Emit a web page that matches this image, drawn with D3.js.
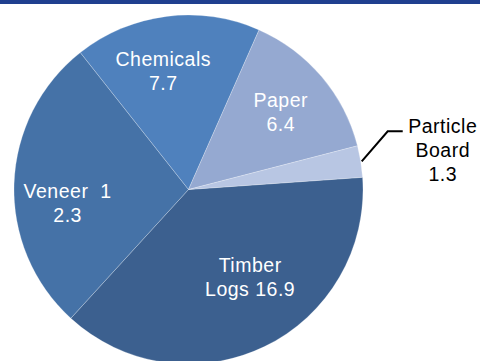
<!DOCTYPE html>
<html>
<head>
<meta charset="utf-8">
<script src="https://cdn.jsdelivr.net/npm/d3@7/dist/d3.min.js"></script>
<style>
  html, body { margin: 0; padding: 0; background: #fff; }
  svg { display: block; }
  text { font-family: "Liberation Sans", Arial, sans-serif; }
</style>
</head>
<body>
<svg id="chart" width="480" height="361"></svg>
<script>
// Wood product output by segment
const categories = ["Timber Logs", "Veneer", "Chemicals", "Paper", "Particle Board"];
const values = [16.9, 12.3, 7.7, 6.4, 1.3];
const colors = ["#3c608f", "#4572a7", "#4f81bd", "#95a9d1", "#b8c6e3"];
// Label text as it wraps inside each slice
const labelLines = [
  ["Timber", "Logs 16.9"],
  ["Veneer  1", "2.3"],
  ["Chemicals", "7.7"],
  ["Paper", "6.4"],
  ["Particle", "Board", "1.3"]
];

const W = 480, H = 361;
const cx = 188.5, cy = 189.5, R = 174.5;
const startDeg = 86;

const svg = d3.select("#chart");

// header band
svg.append("rect").attr("x", 0).attr("y", 0).attr("width", W).attr("height", 4).attr("fill", "#1f3f8f");

const data = categories.map((c, i) => ({ name: c, value: values[i], color: colors[i], lines: labelLines[i] }));

const pie = d3.pie()
  .value(d => d.value)
  .sort(null)
  .startAngle(startDeg * Math.PI / 180)
  .endAngle((startDeg + 360) * Math.PI / 180);

const arcs = pie(data);
const arc = d3.arc().innerRadius(0).outerRadius(R);
const labelR = 121;
const labelArc = d3.arc().innerRadius(labelR).outerRadius(labelR);

const g = svg.append("g").attr("transform", `translate(${cx},${cy})`);

g.selectAll("path.slice")
  .data(arcs)
  .join("path")
  .attr("class", "slice")
  .attr("d", arc)
  .attr("fill", d => d.data.color)
  .attr("stroke", "#ffffff")
  .attr("stroke-width", 0.4)
  .attr("stroke-opacity", 0.6);

const lineH = 24;
const fontSize = 19.5;
const capHalf = fontSize * 0.716 / 2;
// small nudges so wrapped labels sit clear of slice edges
const nudge = { "Timber Logs": [9, -21], "Veneer": [0, 18], "Chemicals": [-10, 2], "Paper": [0, 1] };

// inside labels (all but the smallest slice)
arcs.forEach((a, i) => {
  if (i === arcs.length - 1) return;
  const c = labelArc.centroid(a);
  const nd = nudge[a.data.name] || [0, 0];
  const x = c[0] + nd[0], y = c[1] + nd[1];
  const n = a.data.lines.length;
  const t = g.append("text")
    .attr("text-anchor", "middle")
    .attr("fill", "#ffffff")
    .attr("font-size", fontSize)
    .attr("letter-spacing", 0.5)
    .style("white-space", "pre");
  a.data.lines.forEach((ln, k) => {
    t.append("tspan")
      .attr("x", x)
      .attr("y", y + (k - (n - 1) / 2) * lineH + capHalf)
      .text(ln);
  });
});

// outside label with leader for the smallest slice
const small = arcs[arcs.length - 1];
const mid = (small.startAngle + small.endAngle) / 2;
const p0 = [Math.sin(mid) * (R + 1), -Math.cos(mid) * (R + 1)];
const p1 = [p0[0] + 26, p0[1] - 30];
const p2 = [p1[0] + 15, p1[1]];
g.append("path")
  .attr("d", d3.line()([p0, p1, p2]))
  .attr("fill", "none")
  .attr("stroke", "#000")
  .attr("stroke-width", 2);

const tx = p2[0] + 40;
const t2 = g.append("text")
  .attr("text-anchor", "middle")
  .attr("fill", "#000")
  .attr("font-size", fontSize)
  .attr("letter-spacing", 0.5);
small.data.lines.forEach((ln, k) => {
  t2.append("tspan")
    .attr("x", tx)
    .attr("y", p2[1] + 2 + k * lineH)
    .text(ln);
});
</script>
</body>
</html>
